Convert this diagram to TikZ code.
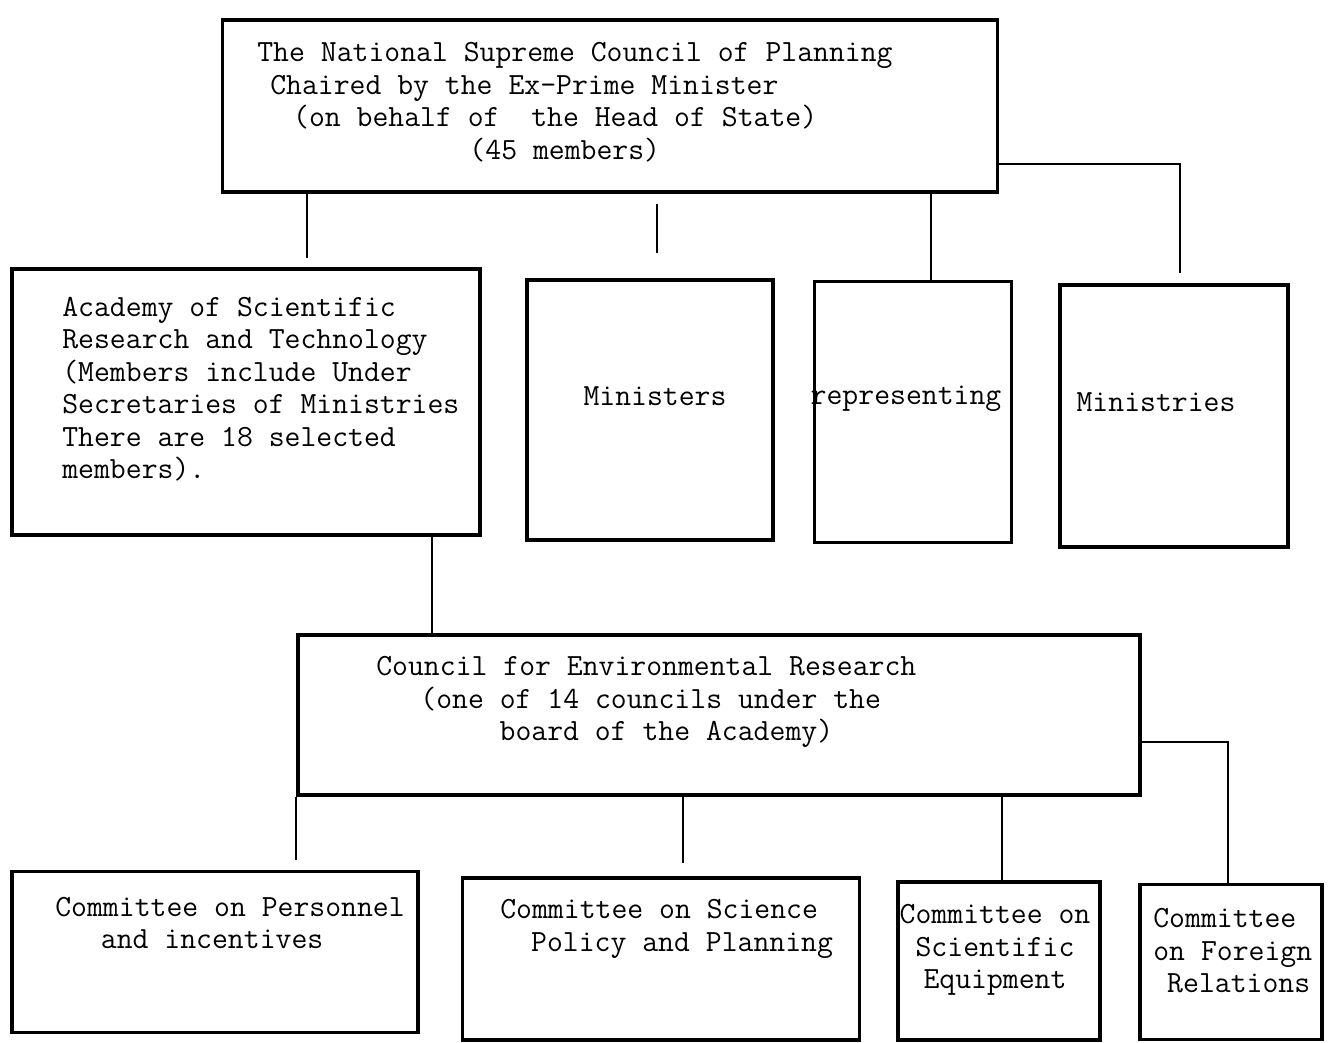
\documentclass[tikz,border=0pt]{standalone}
\usepackage{fontspec}
\usetikzlibrary{positioning}
\newcommand{\typew}{\ttfamily\fontsize{17.55}{18.5}\selectfont}
\tikzset{
  orgbox/.style={draw, line width=2.2pt, inner sep=0pt},
  wh/.style 2 args={minimum width=#1*0.02cm, minimum height=#2*0.02cm},
  orgtxt/.style={inner sep=0pt, font=\typew},
  link/.style={line width=0.9pt},
}

\begin{document}
\begin{tikzpicture}[x=0.02cm, y=-0.02cm]
  \useasboundingbox (0,0) rectangle (1338,1042);
  % boxes
  \node[orgbox, wh={775}{172}] (nsc)   at (610,106) {};
  \node[orgbox, wh={468}{266}] (acad)  at (246,402) {};
  \node[orgbox, wh={246}{260}] (mins)  at (650,410) {};
  \node[orgbox, wh={197}{261}] (rep)   at (913,412) {};
  \node[orgbox, wh={228}{262}] (mries) at (1174,416) {};
  \node[orgbox, wh={842}{160}] (cer)   at (719,715) {};
  \node[orgbox, wh={406}{161}] (pers)  at (215,952) {};
  \node[orgbox, wh={397}{162}] (spp)   at (661,959) {};
  \node[orgbox, wh={202}{158}] (equip) at (999,961) {};
  \node[orgbox, wh={182}{155}] (forn)  at (1231,962) {};
  % texts
  \node[orgtxt, anchor=west, align=left] (nsc-t) at (257,102)
    {The National Supreme Council of Planning\\
     \hspace*{0.42em}Chaired by the Ex-Prime Minister\\
     \hspace*{1.16em}(on behalf of\ \ the Head of State)\\
     \hspace*{6.88em}(45 members)};
  \node[orgtxt, anchor=west, align=left] (acad-t) at (62,389)
    {Academy of Scientific\\ Research and Technology\\ (Members include Under\\
     Secretaries of Ministries\\ There are 18 selected\\ members).};
  \node[orgtxt] (mins-t)  at (655,396)  {Ministers};
  \node[orgtxt] (rep-t)   at (906,399)  {representing};
  \node[orgtxt] (mries-t) at (1156,402) {Ministries};
  \node[orgtxt, anchor=west, align=left] (cer-t) at (376,702)
    {Council for Environmental Research\\
     \hspace*{1.43em}(one of 14 councils under the\\
     \hspace*{4.0em}board of the Academy)};
  \node[orgtxt, anchor=west, align=left] (pers-t) at (55,923)
    {Committee on Personnel\\ \hspace*{1.48em}and incentives};
  \node[orgtxt, anchor=west, align=left] (spp-t) at (500,929)
    {Committee on Science\\ \hspace*{1.0em}Policy and Planning};
  \node[orgtxt, align=center] (equip-t) at (995,950)
    {Committee on\\ Scientific\\ Equipment};
  \node[orgtxt, anchor=west, align=left] (forn-t) at (1153,951)
    {Committee\\ on Foreign\\ \hspace*{0.45em}Relations};
  % connectors
  \draw[link, shorten >=0.18cm] (307,0 |- nsc.south) -- (307,0 |- acad.north);
  \draw[link, shorten <=0.2cm, shorten >=0.5cm] (657,0 |- nsc.south) -- (657,0 |- mins.north);
  \draw[link] (931,0 |- nsc.south) -- (931,0 |- rep.north);
  \draw[link, shorten >=0.2cm] (nsc.east |- 0,164) -| (1180,0 |- mries.north);
  \draw[link] (432,0 |- acad.south) -- (432,0 |- cer.north);
  \draw[link, shorten >=0.2cm] (cer.south west) -- (cer.south west |- pers.north);
  \draw[link, shorten >=0.26cm] (683,0 |- cer.south) -- (683,0 |- spp.north);
  \draw[link] (1002,0 |- cer.south) -- (1002,0 |- equip.north);
  \draw[link] (cer.east |- 0,742) -| (1228,0 |- forn.north);
\end{tikzpicture}
\end{document}
